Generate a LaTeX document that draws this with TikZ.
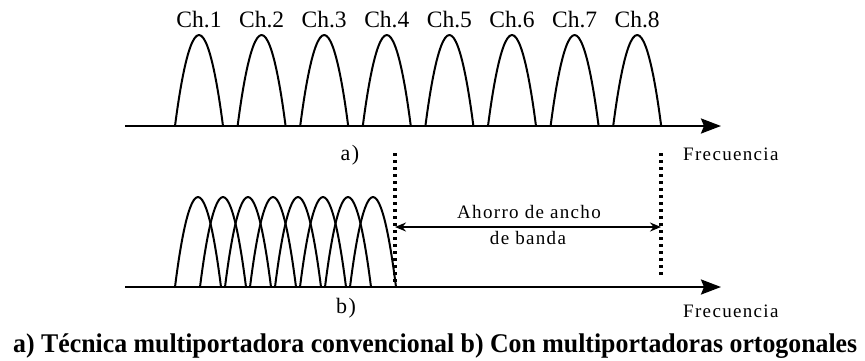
\documentclass[tikz,border=0pt]{standalone}
\usepackage{graphicx}
\usepackage{fontspec}
\setmainfont{Liberation Serif}
\newfontfamily\spacedfont[LetterSpace=7]{Liberation Serif}
\usetikzlibrary{arrows.meta}
\usetikzlibrary{calc}

\tikzset{
  axis/.style={line width=2.5pt, line cap=butt, -{Stealth[length=20pt,width=15pt,inset=3pt]}},
  carrier/.style={line width=2pt},
  guide/.style={line width=3.2pt, line cap=butt, dash pattern=on 3pt off 4pt},
  span/.style={line width=1.7pt, {Stealth[length=11pt,width=9pt]}-{Stealth[length=11pt,width=9pt]}},
  chlabel/.style={anchor=base, inner sep=0pt, font=\fontsize{23.5}{23.5}\selectfont},
  small/.style={inner sep=0pt, font=\spacedfont\fontsize{19}{19}\selectfont}
}

\begin{document}
\begin{tikzpicture}[x=1pt, y=-1pt, line cap=round, line join=round]
	\useasboundingbox (0,0) rectangle (865,360);
	
	% a) conventional carriers
	\coordinate (Astart) at (125,126);
	\coordinate (Aend) at (721,126);
	\draw[axis] (Astart) -- (Aend);
	\foreach \i in {1,...,8}{
		\pgfmathsetmacro{\xl}{175+62.6*(\i-1)}
		\draw[carrier] (\xl,126) parabola bend (\xl+24,35) (\xl+48,126);
		\node[chlabel] (ch\i) at (\xl+24,27) {Ch.\i};
	}
	\node[small, anchor=base, font=\spacedfont\fontsize{22}{22}\selectfont] (lbla) at (350,160) {a)};
	\node[small, anchor=base west] (freqa) at (683,160) {Frecuencia};
	
	% b) orthogonal carriers
	\coordinate (Bstart) at (125,287);
	\coordinate (Bend) at (721,287);
	\draw[axis] (Bstart) -- (Bend);
	\foreach \i in {1,...,8}{
		\pgfmathsetmacro{\xl}{175+25*(\i-1)}
		\draw[carrier] (\xl,287) parabola bend (\xl+23,197) (\xl+46,287);
	}
	\node[small, anchor=base, font=\spacedfont\fontsize{22}{22}\selectfont] (lblb) at (346,313) {b)};
	\node[small, anchor=base west] (freqb) at (683,317) {Frecuencia};
	
	% Bandwidth saving
	\coordinate (G1top) at (395,153);
	\coordinate (G1bot) at (395,287);
	\coordinate (G2top) at (661,153);
	\coordinate (G2bot) at (661,278);
	\draw[guide] (G1top) -- (G1bot);
	\draw[guide] (G2top) -- (G2bot);
	\coordinate (S1) at (395,227);
	\coordinate (S2) at (661,227);
	\draw[span] (S1) -- (S2);
	\node[small] (save1) at (529,212) {Ahorro de ancho};
	\node[small] (save2) at (528,238) {de banda};
	
	% Caption
	\node[anchor=base west, inner sep=0pt] (caption) at (13,352)
		{\resizebox{844pt}{\height}{\bfseries\fontsize{27}{27}\selectfont a) Técnica multiportadora convencional b) Con multiportadoras ortogonales}};
\end{tikzpicture}
\end{document}
